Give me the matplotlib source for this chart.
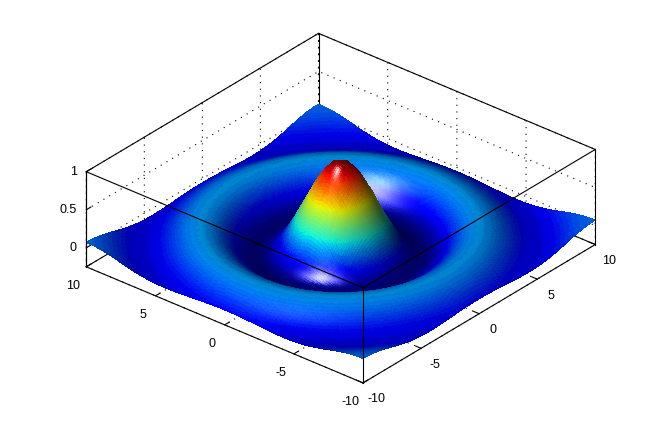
import numpy as np
import matplotlib
matplotlib.use("Agg")
import matplotlib.pyplot as plt

plt.rcParams['font.family'] = ['Liberation Sans', 'DejaVu Sans']
plt.rcParams['axes.unicode_minus'] = False

# heights, one octant of the surface: row j = |y| / 0.5, entry i = |x| / 0.5
HEIGHT_ROWS = [
    [1.00],
    [.959, .919],
    [.841, .805, .698],
    [.665, .632, .541, .403],
    [.455, .428, .353, .239, .108],
    [.239, .218, .162, .075, -.018, -.110],
    [.047, .033, -.006, -.062, -.125, -.177, -.211],
    [-.100, -.110, -.131, -.162, -.192, -.214, -.215, -.196],
    [-.189, -.192, -.202, -.212, -.217, -.212, -.192, -.154, -.103],
    [-.217, -.217, -.215, -.211, -.199, -.176, -.142, -.097, -.043, .012],
    [-.192, -.190, -.182, -.167, -.145, -.114, -.075, -.030, .018, .064, .100],
    [-.128, -.125, -.114, -.097, -.071, -.040, -.004, .036, .073, .102, .123, .128],
    [-.047, -.043, -.034, -.017, .006, .033, .061, .089, .110, .125, .128, .118, .094],
    [.033, .036, .044, .056, .073, .090, .107, .120, .128, .126, .115, .092, .061, .025],
    [.094, .094, .100, .107, .115, .123, .127, .128, .122, .107, .085, .056, .022, -.013, -.046],
    [.125, .125, .127, .128, .128, .126, .121, .110, .094, .071, .044, .015, -.018, -.048, -.072, -.088],
    [.124, .123, .122, .119, .111, .103, .090, .073, .051, .027, .000, -.029, -.054, -.076, -.088, -.091, -.084],
    [.094, .094, .089, .082, .073, .061, .044, .025, .003, -.020, -.042, -.063, -.080, -.089, -.091, -.084, -.067, -.043],
    [.046, .045, .040, .033, .022, .009, -.005, -.025, -.043, -.059, -.074, -.084, -.089, -.090, -.081, -.064, -.040, -.015, .013],
    [-.008, -.009, -.013, -.020, -.029, -.040, -.051, -.063, -.076, -.084, -.090, -.091, -.087, -.079, -.059, -.035, -.010, .013, .038, .060],
    [-.054, -.055, -.058, -.063, -.069, -.076, -.082, -.088, -.091, -.091, -.088, -.080, -.068, -.050, -.029, -.005, .019, .040, .057, .068, .071],
]
XY_TICKS = [-10, -5, 0, 5, 10]
Z_TICKS = [0, 0.5, 1]
Z_LIMITS = (-0.25, 1)
SUBDIV = 5  # cells split for smooth shading only, like shading interp


def refine(a):
    # blend node values across each mesh cell so the shading has no flat facets
    t = np.linspace(0, a.shape[0] - 1, (a.shape[0] - 1) * SUBDIV + 1)
    i = np.minimum(t.astype(int), a.shape[0] - 2)
    f = t - i
    fy = f[:, None]
    fx = f[None, :]
    if a.ndim == 3:
        fy = fy[..., None]
        fx = fx[..., None]
    return ((1 - fy) * (1 - fx) * a[np.ix_(i, i)] + fy * (1 - fx) * a[np.ix_(i + 1, i)]
            + (1 - fy) * fx * a[np.ix_(i, i + 1)] + fy * fx * a[np.ix_(i + 1, i + 1)])


# unfold the octant to the whole square
quad = np.zeros((21, 21))
for j, row in enumerate(HEIGHT_ROWS):
    for i, val in enumerate(row):
        quad[j, i] = val
        quad[i, j] = val
idx = np.abs(np.arange(41) - 20)
Z = quad[np.ix_(idx, idx)]
xs = np.arange(41) * 0.5 - 10
X, Y = np.meshgrid(xs, xs)

# phong style lighting on the box-scaled surface
STRETCH = 88.0 / 18.0
dzdy, dzdx = np.gradient(Z, 0.5)
N = np.dstack([-dzdx * STRETCH, -dzdy * STRETCH, np.ones_like(Z)])
N /= np.linalg.norm(N, axis=2, keepdims=True)

X2, Y2, Z2, N2 = refine(X), refine(Y), refine(Z), refine(N)
N_face = (N2[:-1, :-1] + N2[1:, :-1] + N2[:-1, 1:] + N2[1:, 1:]) / 4
N_face /= np.linalg.norm(N_face, axis=2, keepdims=True)
Z_face = (Z2[:-1, :-1] + Z2[1:, :-1] + Z2[:-1, 1:] + Z2[1:, 1:]) / 4

light = np.array([-0.692, 0.01, 0.726])
half = np.array([-0.621, -0.251, 0.743])
half /= np.linalg.norm(half)
light /= np.linalg.norm(light)
diffuse = np.clip(N_face @ light, 0, 1)
spec = np.clip(N_face @ half, 0, 1) ** 60

jet = plt.get_cmap('jet', 64)
base = jet((Z_face + 0.22) / 1.22)[..., :3]
rgb = base * (0.3 + 0.7 * diffuse)[..., None] + 0.85 * spec[..., None]
rgb = np.clip(rgb, 0, 1)

fig = plt.figure(figsize=(6.58, 4.33), dpi=100)
ax = fig.add_subplot(111, projection='3d', proj_type='ortho', computed_zorder=False)
ax.set_position([0.009, 0.0058, 1, 1])
ax.view_init(elev=30, azim=-140)
ax.set_box_aspect((361, 361, 109.7), zoom=1.1716)
ax.patch.set_alpha(0)

surf = ax.plot_surface(X2, Y2, Z2, facecolors=rgb, rstride=1, cstride=1, shade=False,
                       linewidth=0, antialiased=False, zorder=2)
surf.set_clip_on(False)

ax.set_xlim(-10, 10, view_margin=0)
ax.set_ylim(-10, 10, view_margin=0)
ax.set_zlim(*Z_LIMITS, view_margin=0)
ax.set_xticks(XY_TICKS)
ax.set_yticks(XY_TICKS)
ax.set_zticks(Z_TICKS)
ax.set_zticklabels(['0', '0.5', '1'])

for axis in (ax.xaxis, ax.yaxis, ax.zaxis):
    axis.pane.set_visible(False)
    axis.line.set_color('k')
    axis.line.set_linewidth(0.8)
    axis._axinfo['grid'].update(color='k', linestyle=(0, (1, 5)), linewidth=0.8)
    axis._axinfo['tick'].update(inward_factor=0.0, outward_factor=0.25)
    axis._axinfo['tick']['linewidth'] = {True: 0.8, False: 0.8}
ax.xaxis.set_tick_params(labelsize=9, pad=0)
ax.yaxis.set_tick_params(labelsize=9, pad=1)
ax.zaxis.set_tick_params(labelsize=9, pad=-5)
for tick in ax.zaxis.get_major_ticks():
    tick.label1.set_ha('right')
    tick.label1.set_va('center')

# closed box, back edges under the surface and front edges over it
lo, hi = -10, 10
zb, zt = Z_LIMITS
back = [((hi, hi), (hi, hi), (zb, zt)),
        ((lo, hi), (hi, hi), (zb, zb)), ((hi, hi), (lo, hi), (zb, zb))]
front = [((lo, hi), (lo, lo), (zt, zt)), ((lo, lo), (lo, hi), (zt, zt)),
         ((lo, hi), (hi, hi), (zt, zt)), ((hi, hi), (lo, hi), (zt, zt)),
         ((lo, lo), (lo, lo), (zb, zt)), ((hi, hi), (lo, lo), (zb, zt)),
         ((lo, lo), (hi, hi), (zb, zt))]
for xe, ye, ze in back:
    ax.plot(xe, ye, ze, color='k', lw=0.8, zorder=1, clip_on=False)
for xe, ye, ze in front:
    ax.plot(xe, ye, ze, color='k', lw=0.8, zorder=3, clip_on=False)

fig.savefig('out.png', dpi=100)
